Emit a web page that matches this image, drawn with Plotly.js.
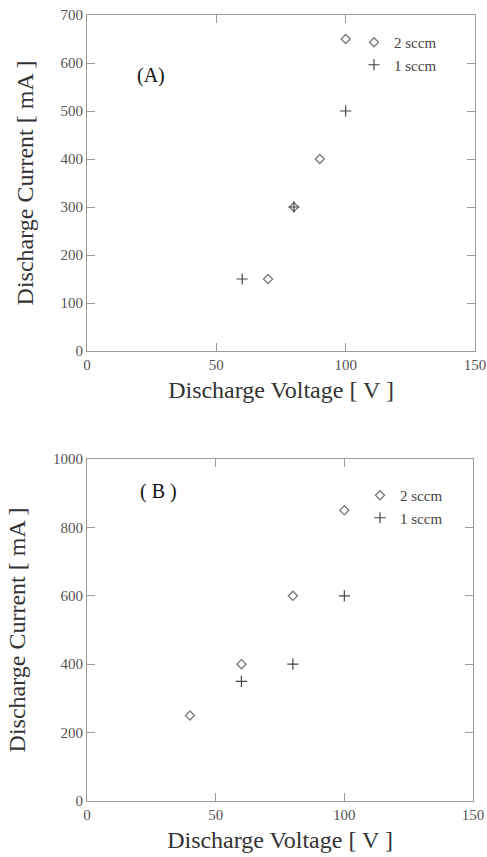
<!DOCTYPE html>
<html>
<head>
<meta charset="utf-8">
<script src="https://cdn.plot.ly/plotly-3.0.1.min.js"></script>
<style>html,body{margin:0;padding:0;background:#fff;}#chart{width:487px;height:857px;}</style>
</head>
<body>
<div id="chart"></div>
<script>
// Panel (A)
const a2Voltage = [70, 80, 90, 100];
const a2Current = [150, 300, 400, 650];
const a1Voltage = [60, 80, 100];
const a1Current = [150, 300, 500];
// Panel (B)
const b2Voltage = [40, 60, 80, 100];
const b2Current = [250, 400, 600, 850];
const b1Voltage = [60, 80, 100];
const b1Current = [350, 400, 600];

const seriesNames = ["2 sccm", "1 sccm"];
const xTitle = "Discharge Voltage [ V ]";
const yTitle = "Discharge Current [ mA ]";
const panelLabels = ["(A)", "( B )"];

const serif = "Liberation Serif, DejaVu Serif, serif";
const axisGray = "#9a9a9a";

const diamond = {symbol: "diamond-open", size: 7, color: "#7a7a7a", line: {width: 1.3, color: "#7a7a7a"}};
const plus = {symbol: "cross-thin-open", size: 8, color: "#444", line: {width: 1.2, color: "#444"}};

const traces = [
  {x: a2Voltage, y: a2Current, name: seriesNames[0], mode: "markers", marker: diamond, xaxis: "x", yaxis: "y", legend: "legend"},
  {x: a1Voltage, y: a1Current, name: seriesNames[1], mode: "markers", marker: plus, xaxis: "x", yaxis: "y", legend: "legend"},
  {x: b2Voltage, y: b2Current, name: seriesNames[0], mode: "markers", marker: diamond, xaxis: "x2", yaxis: "y2", legend: "legend2"},
  {x: b1Voltage, y: b1Current, name: seriesNames[1], mode: "markers", marker: plus, xaxis: "x2", yaxis: "y2", legend: "legend2"}
];

function xAxis(domain, anchor) {
  return {
    domain: domain, anchor: anchor, range: [0, 150], dtick: 50, tick0: 0,
    showgrid: false, zeroline: false, showline: true, linecolor: axisGray, linewidth: 1,
    mirror: "ticks", ticks: "inside", ticklen: 8, tickcolor: axisGray,
    tickfont: {family: serif, size: 15, color: "#555"}, automargin: false,
    title: {text: xTitle, font: {family: serif, size: 24, color: "#333"}, standoff: 9}
  };
}
function yAxis(domain, anchor, max, dtick) {
  return {
    domain: domain, anchor: anchor, range: [0, max], dtick: dtick, tick0: 0,
    showgrid: false, zeroline: false, showline: true, linecolor: axisGray, linewidth: 1,
    mirror: "ticks", ticks: "inside", ticklen: 8, tickcolor: axisGray,
    tickfont: {family: serif, size: 15, color: "#555"}, automargin: false,
    title: {text: yTitle, font: {family: serif, size: 24, color: "#333"}, standoff: 20}
  };
}

const W = 487, H = 857;
const layout = {
  width: W, height: H,
  margin: {l: 0, r: 0, t: 0, b: 0},
  paper_bgcolor: "#fff", plot_bgcolor: "#fff",
  showlegend: true,
  font: {family: serif},
  xaxis: xAxis([87 / W, 475 / W], "y"),
  yaxis: yAxis([(H - 351) / H, (H - 15) / H], "x", 700, 100),
  xaxis2: xAxis([87 / W, 473 / W], "y2"),
  yaxis2: yAxis([(H - 801) / H, (H - 459) / H], "x2", 1000, 200),
  legend: {x: 442 / W, y: (H - 26) / H, xanchor: "right", yanchor: "top", bgcolor: "rgba(0,0,0,0)",
           font: {family: serif, size: 15, color: "#444"}, tracegroupgap: 0, itemwidth: 30},
  legend2: {x: 448 / W, y: (H - 479) / H, xanchor: "right", yanchor: "top", bgcolor: "rgba(0,0,0,0)",
            font: {family: serif, size: 15, color: "#444"}, tracegroupgap: 0, itemwidth: 30},
  annotations: [
    {text: panelLabels[0], xref: "paper", yref: "paper", x: 135 / W, y: (H - 62) / H, showarrow: false,
     font: {family: serif, size: 20, color: "#111"}},
    {text: panelLabels[1], xref: "paper", yref: "paper", x: 138 / W, y: (H - 491) / H, showarrow: false,
     font: {family: serif, size: 20, color: "#111"}}
  ]
};

Plotly.newPlot("chart", traces, layout, {displayModeBar: false, staticPlot: true});
</script>
</body>
</html>
